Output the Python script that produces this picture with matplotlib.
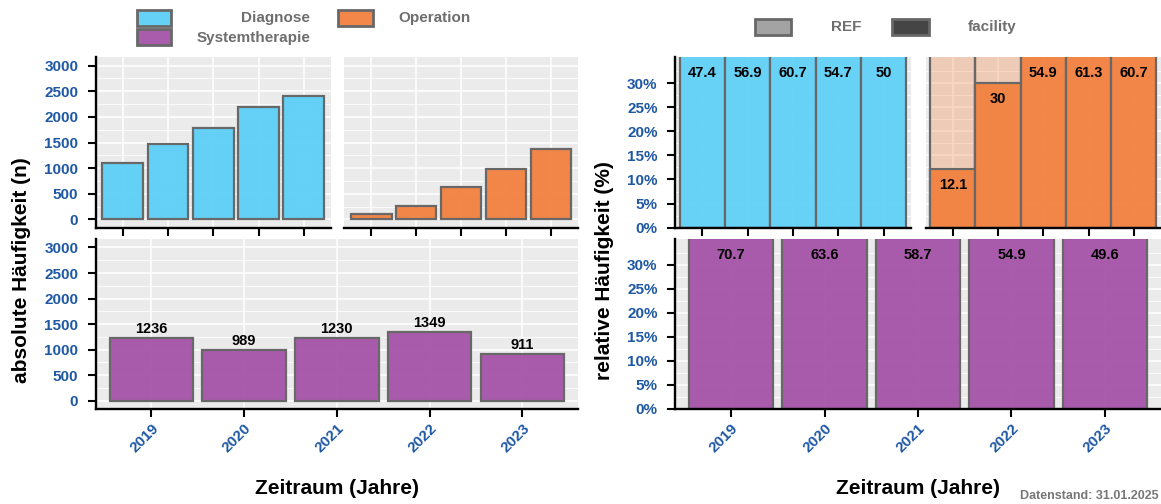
import matplotlib
matplotlib.use('Agg')
import matplotlib.pyplot as plt
from matplotlib.patches import Rectangle
from matplotlib.colors import to_rgba
import numpy as np

plt.rcParams['font.family'] = ['Liberation Sans', 'DejaVu Sans']
plt.rcParams['font.weight'] = 'bold'

# ---------------- data ----------------
years = ['2019', '2020', '2021', '2022', '2023']
diagnose_n = [1110, 1470, 1775, 2195, 2415]
operation_n = [115, 255, 635, 975, 1365]
systemtherapie_n = [1236, 989, 1230, 1349, 911]
diagnose_pct = [47.4, 56.9, 60.7, 54.7, 50]
operation_pct = [12.1, 30, 54.9, 61.3, 60.7]
systemtherapie_pct = [70.7, 63.6, 58.7, 54.9, 49.6]
# REF bars only visible (clipped above the axis) for operation 2019/2020
operation_ref_pct = [36, 36, None, None, None]

abs_ticks = [0, 500, 1000, 1500, 2000, 2500, 3000]
pct_ticks = [0, 5, 10, 15, 20, 25, 30]

# ---------------- style ----------------
W, H = 1161, 504
C_DIAG = '#5DCFF7'
C_OP = '#F2813F'
C_SYS = '#A653A8'
EDGE = '#686868'
TICKC = '#1F58A3'
LEGTXT = '#6E6E6E'
BG = '#EBEBEB'

fig = plt.figure(figsize=(W / 100, H / 100), dpi=100)


def rect(x0, x1, y0, y1):
    return [x0 / W, 1 - y1 / H, (x1 - x0) / W, (y1 - y0) / H]


def style(ax, ylim, major, minor, left=True, xlabels=False, ylabels=True, pct=False):
    ax.set_facecolor(BG)
    ax.set_axisbelow(True)
    ax.set_xlim(-0.6, 4.6)
    ax.set_ylim(*ylim)
    ax.set_xticks(range(len(years)))
    ax.set_yticks(major)
    ax.set_yticks(minor, minor=True)
    ax.grid(which='major', color='white', lw=1.1)
    ax.grid(which='minor', axis='y', color='white', lw=0.6)
    for s in ['top', 'right']:
        ax.spines[s].set_visible(False)
    ax.spines['bottom'].set_linewidth(1.7)
    ax.spines['left'].set_linewidth(1.7)
    if not left:
        ax.spines['left'].set_visible(False)
    ax.tick_params(which='major', length=6, width=1.5, color='black', pad=6.5,
                   labelsize=11, labelcolor=TICKC)
    ax.tick_params(which='minor', length=0)
    ax.tick_params(axis='x', pad=2.5)
    if ylabels:
        if pct:
            ax.set_yticklabels([f'{v}%' for v in major])
        else:
            ax.set_yticklabels([str(v) for v in major])
    else:
        ax.tick_params(axis='y', which='both', left=False, labelleft=False)
    if xlabels:
        ax.set_xticklabels(years, rotation=45, ha='right', va='top', rotation_mode='anchor')
    else:
        ax.set_xticklabels([])
    for lab in ax.get_xticklabels() + ax.get_yticklabels():
        lab.set_fontweight('bold')


x = np.arange(len(years))
abs_lim = (-160, 3160)
abs_minor = [250, 750, 1250, 1750, 2250, 2750]
pct_lim = (0, 35.35)
pct_minor = [2.5, 7.5, 12.5, 17.5, 22.5, 27.5, 32.5]

# ---- left: absolute ----
ax1 = fig.add_axes(rect(95.7, 331, 57.3, 227.7))
style(ax1, abs_lim, abs_ticks, abs_minor)
ax1.bar(x, diagnose_n, width=0.9, facecolor=to_rgba(C_DIAG, 0.95), edgecolor=EDGE, lw=1.6)

ax2 = fig.add_axes(rect(344.4, 578, 57.3, 227.7))
style(ax2, abs_lim, abs_ticks, abs_minor, left=False, ylabels=False)
ax2.bar(x, operation_n, width=0.9, facecolor=to_rgba(C_OP, 0.95), edgecolor=EDGE, lw=1.6)

ax3 = fig.add_axes(rect(95.7, 578, 239.3, 409))
style(ax3, abs_lim, abs_ticks, abs_minor, xlabels=True)
ax3.bar(x, systemtherapie_n, width=0.9, facecolor=to_rgba(C_SYS, 0.95), edgecolor=EDGE, lw=1.6)
for xi, v in zip(x, systemtherapie_n):
    ax3.text(xi, v + 40, str(v), ha='center', va='bottom', fontsize=10.5,
             fontweight='bold', color='black')

# ---- right: relative ----
def pct_label(ax, vals, ylim):
    for xi, v in zip(x, vals):
        lab = f'{v:g}'
        ax.text(xi, min(v, ylim[1]) - 3.3, lab, ha='center', va='center', fontsize=10.5,
                fontweight='bold', color='black')


ax4 = fig.add_axes(rect(675, 911, 57.3, 227.7))
style(ax4, pct_lim, pct_ticks, pct_minor, pct=True)
ax4.bar(x, diagnose_pct, width=1.0, facecolor=to_rgba(C_DIAG, 0.92), edgecolor=EDGE, lw=1.6)
pct_label(ax4, diagnose_pct, pct_lim)

ax5 = fig.add_axes(rect(925.6, 1161, 57.3, 227.7))
style(ax5, pct_lim, pct_ticks, pct_minor, left=False, ylabels=False)
ref_x = [xi for xi, r in zip(x, operation_ref_pct) if r is not None]
ref_v = [r for r in operation_ref_pct if r is not None]
ax5.bar(ref_x, ref_v, width=1.0, facecolor=to_rgba(C_OP, 0.3), edgecolor=EDGE, lw=1.6)
ax5.bar(x, operation_pct, width=1.0, facecolor=to_rgba(C_OP, 0.95), edgecolor=EDGE, lw=1.6)
pct_label(ax5, operation_pct, pct_lim)

ax6 = fig.add_axes(rect(675, 1161, 239.3, 409))
style(ax6, pct_lim, pct_ticks, pct_minor, xlabels=True, pct=True)
ax6.bar(x, systemtherapie_pct, width=0.9, facecolor=to_rgba(C_SYS, 0.95), edgecolor=EDGE, lw=1.6)
pct_label(ax6, systemtherapie_pct, pct_lim)

# ---- titles ----
fig.text(22 / W, 1 - 270 / H, 'absolute Häufigkeit (n)', rotation=90, ha='center', va='center',
         fontsize=15, fontweight='bold', color='black')
fig.text(604 / W, 1 - 271 / H, 'relative Häufigkeit (%)', rotation=90, ha='center', va='center',
         fontsize=15, fontweight='bold', color='black')
fig.text(337 / W, 1 - 488 / H, 'Zeitraum (Jahre)', ha='center', va='center',
         fontsize=15, fontweight='bold', color='black')
fig.text(918 / W, 1 - 488 / H, 'Zeitraum (Jahre)', ha='center', va='center',
         fontsize=15, fontweight='bold', color='black')
fig.text(1159 / W, 1 - 496 / H, 'Datenstand: 31.01.2025', ha='right', va='center',
         fontsize=9, fontweight='bold', color='#777777')

# ---- legends ----
def key(x0, x1, y0, y1, color):
    fig.add_artist(Rectangle((x0 / W, 1 - y1 / H), (x1 - x0) / W, (y1 - y0) / H,
                             transform=fig.transFigure, facecolor=color, edgecolor=EDGE, lw=2))


key(137, 171, 10, 26, to_rgba(C_DIAG, 0.95))
key(338, 373, 10, 26, to_rgba(C_OP, 0.95))
key(137, 171, 29, 45, to_rgba(C_SYS, 0.95))
fig.text(310 / W, 1 - 18 / H, 'Diagnose', ha='right', va='center', fontsize=11,
         fontweight='bold', color=LEGTXT)
fig.text(398 / W, 1 - 18 / H, 'Operation', ha='left', va='center', fontsize=11,
         fontweight='bold', color=LEGTXT)
fig.text(310 / W, 1 - 38 / H, 'Systemtherapie', ha='right', va='center', fontsize=11,
         fontweight='bold', color=LEGTXT)

key(755, 791, 19, 35, '#A3A3A3')
key(892, 929, 19, 35, '#454545')
fig.text(846 / W, 1 - 27 / H, 'REF', ha='center', va='center', fontsize=11,
         fontweight='bold', color=LEGTXT)
fig.text(992 / W, 1 - 27 / H, 'facility', ha='center', va='center', fontsize=11,
         fontweight='bold', color=LEGTXT)

fig.savefig('out.png', dpi=100)
